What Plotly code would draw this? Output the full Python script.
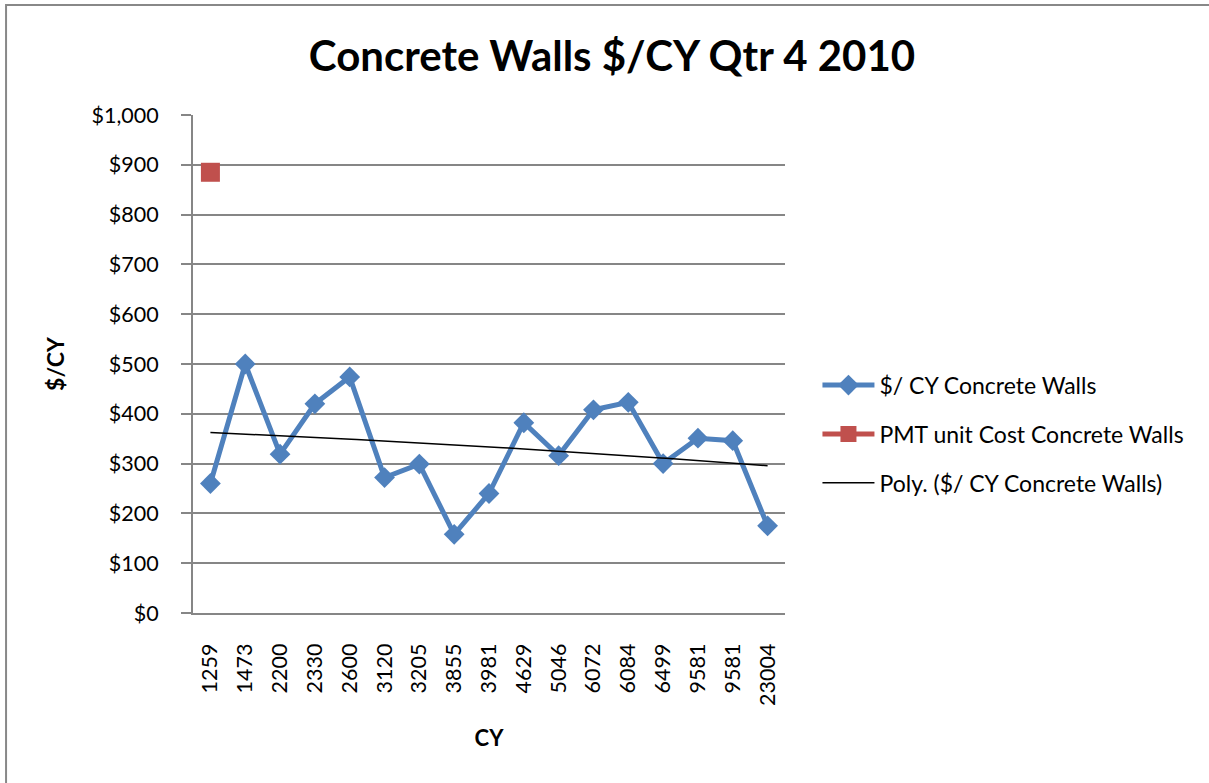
import numpy as np
import plotly.graph_objects as go

categories = ["1259", "1473", "2200", "2330", "2600", "3120", "3205", "3855", "3981",
              "4629", "5046", "6072", "6084", "6499", "9581", "9581", "23004"]
cost_per_cy = [260, 500, 319, 420, 474, 272, 299, 158, 240, 382, 316, 408, 423, 300, 351, 346, 175]
pmt_category_index = [0]
pmt_cost = [885]

y_ticks = [0, 100, 200, 300, 400, 500, 600, 700, 800, 900, 1000]
y_tick_labels = ["$0", "$100", "$200", "$300", "$400", "$500", "$600", "$700", "$800", "$900", "$1,000"]

x_idx = list(range(len(categories)))

# Excel-style polynomial (order 2) trendline over category positions 1..n
coef = np.polyfit(np.arange(1, len(cost_per_cy) + 1), cost_per_cy, 2)
trend_x = np.linspace(0, len(categories) - 1, 100)
trend_y = np.polyval(coef, trend_x + 1)

FONT = "Lato"
BLUE = "#4F81BD"
RED = "#C0504D"
GRID = "#868686"

fig = go.Figure()
fig.add_trace(go.Scatter(
    x=x_idx, y=cost_per_cy, mode="lines+markers", name="$/ CY Concrete Walls",
    line=dict(color=BLUE, width=5),
    marker=dict(symbol="diamond", size=16, color=BLUE),
    legendgroup="a",
))
fig.add_trace(go.Scatter(
    x=pmt_category_index, y=pmt_cost, mode="lines+markers", name="PMT unit Cost Concrete Walls",
    line=dict(color=RED, width=5),
    marker=dict(symbol="square", size=19, color=RED),
    legendgroup="b",
))
fig.add_trace(go.Scatter(
    x=trend_x, y=trend_y, mode="lines", name="Poly. ($/ CY Concrete Walls)",
    line=dict(color="black", width=1.5),
    legendgroup="c",
))

L, R, T, B = 192.7, 785.5, 115.3, 612.7
W, H = 1209, 783
pw, ph = R - L, B - T

def px_to_paper_x(px):
    return (px - L) / pw

def px_to_paper_y(py):
    return (B - py) / ph

fig.update_layout(
    width=W, height=H,
    margin=dict(l=L, r=W - R, t=T, b=H - B, pad=0),
    paper_bgcolor="white", plot_bgcolor="white",
    font=dict(family=FONT, size=21, color="black"),
    title=dict(text="<b>Concrete Walls $/CY Qtr 4 2010</b>", x=612 / W, xanchor="center",
               y=1 - 56 / H, yanchor="middle", font=dict(size=42, family=FONT, color="black")),
    showlegend=True,
    legend=dict(x=px_to_paper_x(818), xanchor="left", y=px_to_paper_y(434), yanchor="middle",
                font=dict(size=23, family=FONT, color="black"), traceorder="grouped",
                tracegroupgap=16, itemwidth=52, bgcolor="rgba(0,0,0,0)"),
    xaxis=dict(
        range=[-0.5, len(categories) - 0.5], tickmode="array", tickvals=x_idx, ticktext=categories,
        tickangle=-90, showgrid=False, showline=True, linecolor=GRID, linewidth=2,
        ticks="", zeroline=False, tickfont=dict(size=21.5, family=FONT), ticklabelstandoff=20,
        title=dict(text="<b>CY</b>", font=dict(size=22, family=FONT), standoff=26),
    ),
    yaxis=dict(
        range=[0, 1000], tickmode="array", tickvals=y_ticks, ticktext=y_tick_labels,
        showgrid=True, gridcolor=GRID, gridwidth=2, showline=True, linecolor=GRID, linewidth=2,
        ticks="outside", ticklen=10, tickcolor=GRID, tickwidth=2, zeroline=False,
        tickfont=dict(size=21.5, family=FONT), ticklabelstandoff=18,
        title=dict(text="<b>$/CY</b>", font=dict(size=23, family=FONT), standoff=20),
    ),
)

# outer chart border (cropped at right/bottom)
fig.add_shape(type="rect", xref="paper", yref="paper",
              x0=px_to_paper_x(5.5), x1=px_to_paper_x(1215),
              y0=px_to_paper_y(790), y1=px_to_paper_y(5.5),
              line=dict(color="#888888", width=2), fillcolor="rgba(0,0,0,0)", layer="below")

fig.write_html("out.html", config={"displayModeBar": False},
               post_script="document.body.style.margin='0px';")
